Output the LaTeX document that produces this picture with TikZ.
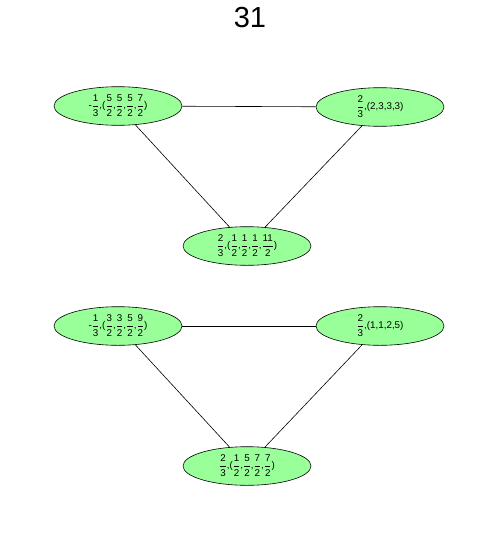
\documentclass[tikz,border=0pt]{standalone}
\usepackage{fontspec}
\setmainfont{Liberation Sans}
\usetikzlibrary{shapes.geometric}
\newcommand\fr[2]{\kern1.1pt\ensuremath{\vcenter{\offinterlineskip\halign{\hfil##\hfil\cr\vrule width0pt height8.8pt depth3.4pt #1\cr\noalign{\kern1.2pt\hrule height0.5pt\kern1.2pt}\vrule width0pt height8.8pt depth3.4pt #2\cr}}}\kern1.1pt}
\definecolor{nodegreen}{RGB}{153,255,153}
\tikzset{
  vert/.style={ellipse, draw=black, line width=0.6pt, fill=nodegreen, minimum width=128pt, minimum height=34pt, inner sep=0pt, font=\fontsize{9.8}{11}\selectfont},
  edge/.style={draw=black, line width=0.6pt}
}
\begin{document}
\begin{tikzpicture}[x=1pt,y=-1pt]
\useasboundingbox (0,0) rectangle (500,538);
\node[font=\fontsize{29}{30}\selectfont] (title) at (250,18) {31};
% group 1
\node[vert] (a1) at (118,106) {-\fr{1}{3},(\fr{5}{2},\fr{5}{2},\fr{5}{2},\fr{7}{2})};
\node[vert] (b1) at (380,107) {\fr{2}{3},(2,3,3,3)};
\node[vert] (c1) at (247,246) {\fr{2}{3},(\fr{1}{2},\fr{1}{2},\fr{1}{2},\fr{11}{2})};
\draw[edge] (a1) -- (b1);
\draw[edge] (a1) -- (c1);
\draw[edge] (b1) -- (c1);
% group 2
\node[vert] (a2) at (118,326) {-\fr{1}{3},(\fr{3}{2},\fr{3}{2},\fr{5}{2},\fr{9}{2})};
\node[vert] (b2) at (380,326) {\fr{2}{3},(1,1,2,5)};
\node[vert] (c2) at (247,466) {\fr{2}{3},(\fr{1}{2},\fr{5}{2},\fr{7}{2},\fr{7}{2})};
\draw[edge] (a2) -- (b2);
\draw[edge] (a2) -- (c2);
\draw[edge] (b2) -- (c2);
\end{tikzpicture}
\end{document}
